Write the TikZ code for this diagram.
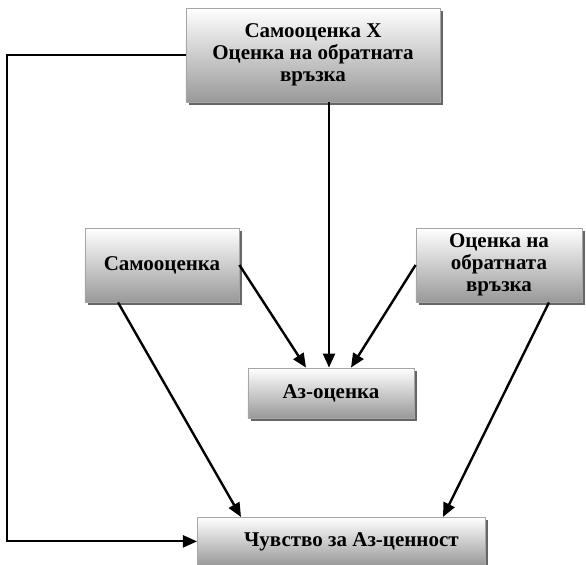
\documentclass[tikz,border=0pt]{standalone}
\usepackage{fontspec}
\setmainfont{Liberation Serif}
\usetikzlibrary{positioning}
\usetikzlibrary{arrows.meta}
\usetikzlibrary{shadows}

\begin{document}
\begin{tikzpicture}[
      x=0.5pt, y=-0.5pt, >={Triangle[length=7pt,width=6pt]},
      box/.style={rectangle, draw=gray!70, top color=white, bottom color=gray!80,
        drop shadow={shadow xshift=1.5pt, shadow yshift=-1.5pt, fill=gray!80!black, opacity=1},
        align=center, inner sep=2pt, font=\fontsize{10.5}{11}\selectfont\bfseries},
      flow/.style={->, line width=1.2pt}]
      \useasboundingbox (0,0) rectangle (586,565);
      % boxes placed at pixel coordinates of the layout
      \node[box, minimum width=127pt, minimum height=47pt] (prod) at (313,55)
        {Самооценка X\\Оценка на обратната\\връзка};
      \node[box, minimum width=77pt, minimum height=37pt] (self) at (162,265)
        {\raisebox{-3pt}{Самооценка}};
      \node[box, minimum width=83pt, minimum height=37pt] (fb) at (499,265)
        {Оценка на\\обратната\\връзка};
      \node[box, minimum width=83pt, minimum height=25pt] (ego) at (331,393) {Аз-оценка};
      \node[box, minimum width=144pt, minimum height=24pt, anchor=north west] (worth) at (197,517)
        {\hspace*{10pt}Чувство за Аз-ценност};
      % connectors
      \coordinate (cl) at (7,55);
      \draw[flow] (prod.south -| 329,0) -- (ego.north -| 329,0);
      \draw[flow] (self.east) -- (ego.north -| 306,0);
      \draw[flow] (fb.west) -- (ego.north -| 351,0);
      \draw[flow] (self.south -| 118,0) -- (worth.north -| 241,0);
      \draw[flow] (fb.south -| 549,0) -- (worth.north -| 443,0);
      \draw[line width=1pt, ->] (prod.west) -- (cl) |- (worth.west);
    \end{tikzpicture}
\end{document}
